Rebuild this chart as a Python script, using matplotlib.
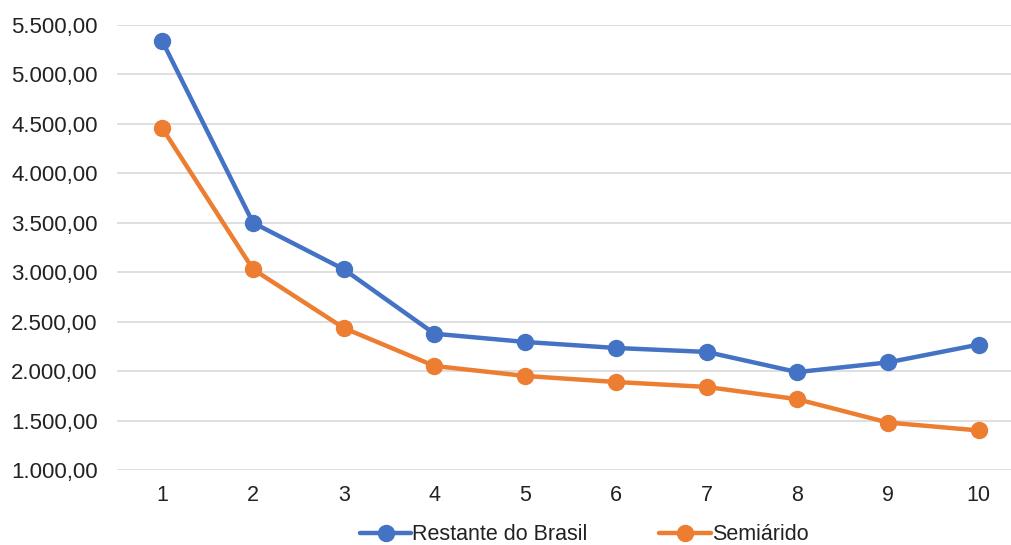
import matplotlib
matplotlib.use("Agg")
import matplotlib.pyplot as plt
from matplotlib.ticker import FuncFormatter, MultipleLocator

categories = [1, 2, 3, 4, 5, 6, 7, 8, 9, 10]
restante = [5335, 3500, 3030, 2378, 2295, 2234, 2194, 1990, 2088, 2268]
semiarido = [4455, 3030, 2436, 2052, 1951, 1890, 1840, 1716, 1480, 1400]
series_names = ["Restante do Brasil", "Semiárido"]
colors = ["#4472C4", "#ED7D31"]

plt.rcParams['font.family'] = ['Liberation Sans', 'DejaVu Sans']

fig = plt.figure(figsize=(10.12, 5.45), dpi=100)
ax = fig.add_axes([117/1012, 1 - 470/545, (1024 - 117)/1012, (470 - 25)/545])

for vals, name, c in zip([restante, semiarido], series_names, colors):
    ax.plot(categories, vals, color=c, lw=3.2, marker='o', markersize=11.5,
            label=name, solid_capstyle='round', zorder=3)

ax.set_xlim(0.5, 10.5)
ax.set_ylim(1000, 5500)
ax.yaxis.set_major_locator(MultipleLocator(500))
ax.set_xticks(categories)
ax.set_xticklabels([str(c) for c in categories])

def fmt(v, pos):
    s = f"{v:,.2f}"
    return s.replace(",", "X").replace(".", ",").replace("X", ".")
ax.yaxis.set_major_formatter(FuncFormatter(fmt))

ax.grid(axis='y', color='#DCDCDC', lw=1.3)
ax.set_axisbelow(True)
for s in ax.spines.values():
    s.set_visible(False)
ax.tick_params(axis='both', length=0, colors='#222222')
ax.tick_params(axis='y', pad=14, labelsize=16)
ax.tick_params(axis='x', pad=11, labelsize=15.5)

leg = fig.legend(loc='center', bbox_to_anchor=(584/1012, 1 - 535/545), ncol=2,
                 frameon=False, fontsize=15.5, handlelength=2.4, handletextpad=0.05,
                 columnspacing=3.3)
for t in leg.get_texts():
    t.set_color('#222222')

fig.savefig("out.png", dpi=100)
